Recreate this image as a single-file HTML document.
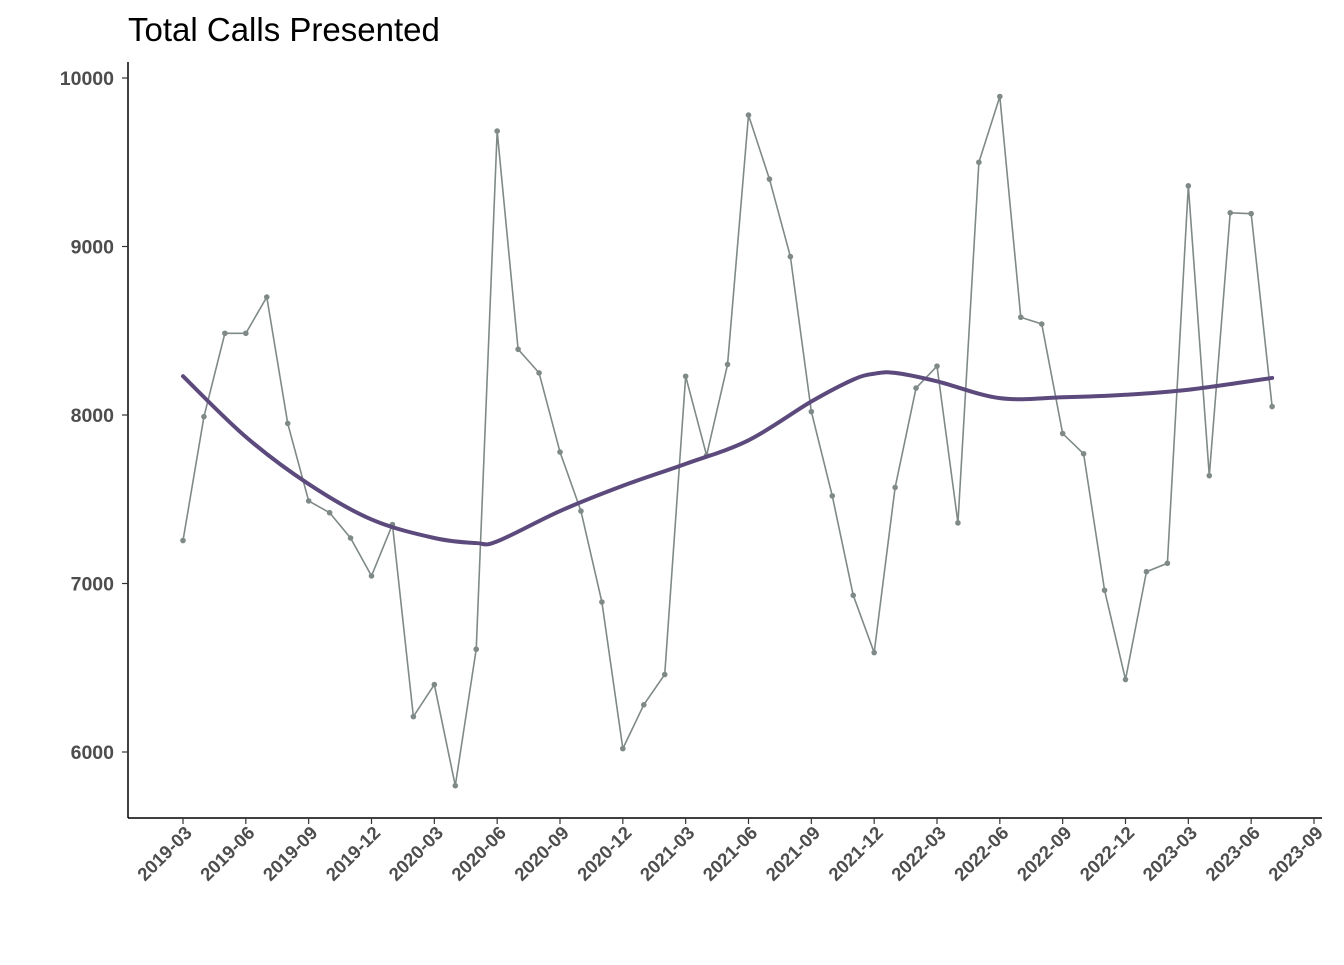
<!DOCTYPE html>
<html><head><meta charset="utf-8"><style>
html,body{margin:0;padding:0;background:#fff;}
svg text{font-family:"Liberation Sans",Arial,sans-serif;}
</style></head><body>
<svg id="chart" width="1344" height="960" viewBox="0 0 1344 960" xmlns="http://www.w3.org/2000/svg">
<rect width="1344" height="960" fill="#fff"/>
<text x="128" y="41" font-size="33" fill="#000">Total Calls Presented</text>
<g id="axes"></g><g id="series"></g>
</svg>
<script>
const startYear = 2019, startMonth = 3;
const callValues = [7255,7990,8485,8485,8700,7950,7490,7420,7270,7045,
 7350,6210,6400,5800,6610,9685,8390,8250,7780,7430,6890,6020,
 6280,6460,8230,7760,8300,9780,9400,8940,8020,7520,6930,6590,
 7570,8160,8290,7360,9500,9890,8580,8540,7890,7770,6960,6430,
 7070,7120,9360,7640,9200,9195,8050];
const smoothMonths = [0,3,6,9,12,14,15,18,21,24,27,30,32,33,34,36,39,42,45,48,52];
const smoothValues = [8230,7870,7590,7380,7270,7240,7250,7430,7580,7710,7850,8080,8210,8245,8250,8200,8100,8105,8120,8150,8220];
const yTicks = [6000,7000,8000,9000,10000];
const xTickLabels = ["2019-03","2019-06","2019-09","2019-12","2020-03","2020-06","2020-09","2020-12","2021-03","2021-06","2021-09","2021-12","2022-03","2022-06","2022-09","2022-12","2023-03","2023-06","2023-09"];

const NS="http://www.w3.org/2000/svg";
const x = m => 183 + m*(1314-183)/54;
const y = v => 752 - (v-6000)*(752-78)/4000;
function mk(tag, attrs, parent){const e=document.createElementNS(NS,tag);for(const k in attrs)e.setAttribute(k,attrs[k]);parent.appendChild(e);return e;}
const axes=document.getElementById('axes'), series=document.getElementById('series');

const ya=mk('line',{x1:128,y1:62,x2:128,y2:818,stroke:'#000','stroke-width':1.5},axes);


const xa=mk('line',{x1:128,y1:818,x2:1322,y2:818,stroke:'#000','stroke-width':1.5},axes);



yTicks.forEach(v=>{
  const t=mk('line',{x1:122,x2:128,y1:y(v),y2:y(v),stroke:'#333','stroke-width':1.2},axes);
  
  
  const l=mk('text',{x:114,y:y(v)+7,'text-anchor':'end','font-size':19.5,'font-weight':'bold',fill:'#4d4d4d'},axes);
  l.textContent=v;
  
  
});
xTickLabels.forEach((s,i)=>{
  const px=x(i*3);
  const t=mk('line',{x1:px,x2:px,y1:818,y2:824,stroke:'#333','stroke-width':1.2},axes);
  
  
  const ax=px+10, ay=834;
  const l=mk('text',{x:ax,y:ay,'text-anchor':'end','font-size':18.5,'font-weight':'bold',fill:'#4d4d4d',transform:`rotate(-45 ${ax} ${ay})`},axes);
  l.textContent=s;
  
  
});

const pts=callValues.map((v,i)=>[x(i),y(v)]);
const line=mk('polyline',{points:pts.map(p=>p.join(',')).join(' '),fill:'none',stroke:'#7f8a88','stroke-width':1.6},series);


pts.forEach(p=>{
  const c=mk('circle',{cx:p[0],cy:p[1],r:2.8,fill:'#7f8a88'},series);
  
  
});

const sp=smoothMonths.map((m,i)=>[x(m),y(smoothValues[i])]);
let d=`M${sp[0][0]},${sp[0][1]}`;
for(let i=0;i<sp.length-1;i++){
  const p0=sp[Math.max(0,i-1)],p1=sp[i],p2=sp[i+1],p3=sp[Math.min(sp.length-1,i+2)];
  const c1=[p1[0]+(p2[0]-p0[0])/6,p1[1]+(p2[1]-p0[1])/6];
  const c2=[p2[0]-(p3[0]-p1[0])/6,p2[1]-(p3[1]-p1[1])/6];
  d+=` C${c1[0]},${c1[1]} ${c2[0]},${c2[1]} ${p2[0]},${p2[1]}`;
}
const tr=mk('path',{d:d,fill:'none',stroke:'#5c4a7d','stroke-width':4,'stroke-linecap':'round'},series);


</script>
</body></html>
